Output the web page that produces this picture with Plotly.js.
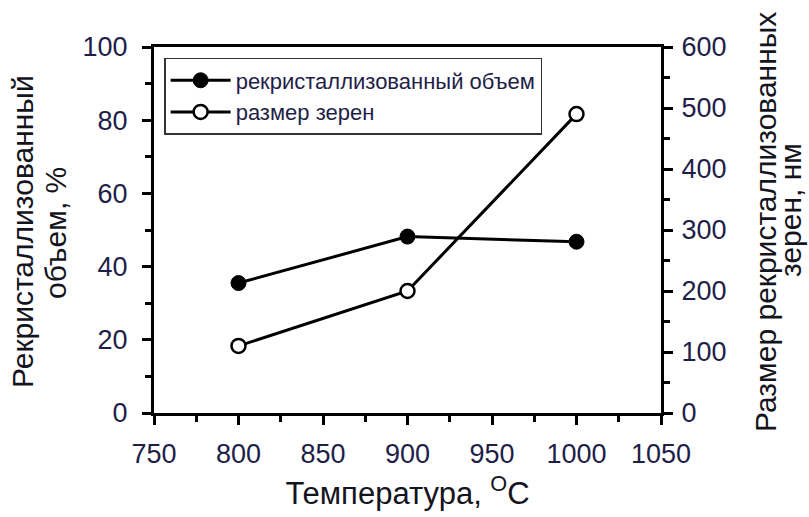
<!DOCTYPE html>
<html>
<head>
<meta charset="utf-8">
<script src="https://cdn.plot.ly/plotly-3.0.1.min.js"></script>
<style>html,body{margin:0;padding:0;background:#fff;}#chart{width:809px;height:517px;}</style>
</head>
<body>
<div id="chart"></div>
<script>
const temperature = [800, 900, 1000];
const recrystVolume = [35.5, 48.2, 46.8];
const grainSize = [110, 200, 490];
const seriesNames = ['рекристаллизованный объем', 'размер зерен'];
const xTitle = 'Температура, <sup>O</sup>C';
const yTitleLines = ['Рекристаллизованный', 'объем, %'];
const y2TitleLines = ['Размер рекристаллизованных', 'зерен, нм'];

const txt = '#1e1e48';
const ttl = '#141420';
const font = 'Liberation Sans, Arial, sans-serif';

const traces = [
  {
    x: temperature, y: recrystVolume, name: seriesNames[0],
    mode: 'lines+markers', yaxis: 'y',
    line: {color: '#000', width: 3},
    marker: {symbol: 'circle', size: 15, color: '#000', line: {color: '#000', width: 1}}
  },
  {
    x: temperature, y: grainSize, name: seriesNames[1],
    mode: 'lines+markers', yaxis: 'y2',
    line: {color: '#000', width: 3},
    marker: {symbol: 'circle', size: 14, color: '#fff', line: {color: '#000', width: 2.5}}
  }
];

function vtitle(text, xpx, ypx) {
  return {
    text: text, textangle: -90, showarrow: false,
    xref: 'paper', yref: 'paper',
    x: (xpx - 154) / 507, y: (413 - ypx) / 366,
    xanchor: 'center', yanchor: 'middle',
    font: {size: 30, color: ttl, family: font}
  };
}

const layout = {
  width: 809, height: 517,
  margin: {l: 154, r: 148, t: 47, b: 104},
  paper_bgcolor: '#fff', plot_bgcolor: '#fff',
  font: {family: font, color: txt, size: 27},
  showlegend: true,
  legend: {
    x: 0.02, y: 0.97, xanchor: 'left', yanchor: 'top',
    bgcolor: '#fff', bordercolor: '#333', borderwidth: 1.5,
    font: {size: 22, color: txt, family: font},
    itemwidth: 60,
    tracegroupgap: 0
  },
  xaxis: {
    range: [750, 1050], dtick: 50, tick0: 750,
    showgrid: false, zeroline: false,
    showline: true, linecolor: '#000', linewidth: 3, mirror: true,
    ticks: 'outside', ticklen: 9, tickwidth: 3, tickcolor: '#000',
    minor: {dtick: 25, ticks: 'outside', ticklen: 6, tickwidth: 3, tickcolor: '#000'},
    tickfont: {size: 27, color: txt},
    ticklabelstandoff: 6,
    title: {text: xTitle, font: {size: 31, color: ttl}, standoff: 14}
  },
  yaxis: {
    range: [0, 100], dtick: 20,
    showgrid: false, zeroline: false,
    showline: true, linecolor: '#000', linewidth: 3,
    ticks: 'outside', ticklen: 9, tickwidth: 3, tickcolor: '#000',
    minor: {dtick: 10, ticks: 'outside', ticklen: 6, tickwidth: 3, tickcolor: '#000'},
    tickfont: {size: 27, color: txt},
    ticklabelstandoff: 9
  },
  yaxis2: {
    range: [0, 600], dtick: 100, overlaying: 'y', side: 'right',
    showgrid: false, zeroline: false,
    showline: true, linecolor: '#000', linewidth: 3,
    ticks: 'outside', ticklen: 9, tickwidth: 3, tickcolor: '#000',
    minor: {dtick: 50, ticks: 'outside', ticklen: 6, tickwidth: 3, tickcolor: '#000'},
    tickfont: {size: 27, color: txt},
    ticklabelstandoff: 3
  },
  annotations: [
    vtitle(yTitleLines[0], 22, 232),
    vtitle(yTitleLines[1], 55, 233),
    vtitle(y2TitleLines[0], 765, 222),
    vtitle(y2TitleLines[1], 790, 210)
  ]
};

Plotly.newPlot('chart', traces, layout, {displayModeBar: false, staticPlot: true});
</script>
</body>
</html>
